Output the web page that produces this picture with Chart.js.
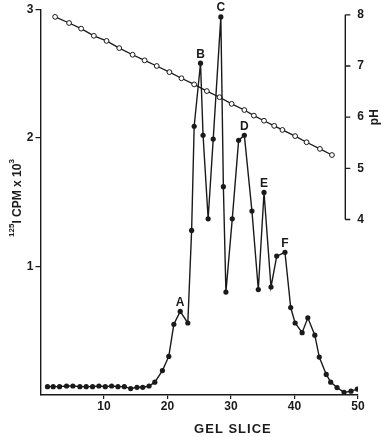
<!DOCTYPE html>
<html>
<head>
<meta charset="utf-8">
<script src="https://cdn.jsdelivr.net/npm/chart.js@4.4.1/dist/chart.umd.min.js"></script>
<style>
  body { margin: 0; background: #fff; }
  canvas { display: block; }
</style>
</head>
<body>
<canvas id="gel" width="381" height="437"></canvas>
<script>
// 125I counts per gel slice (x 10^3)
const cpmSlice = [1.1, 2.0, 3.0, 4.1, 5.1, 6.2, 7.2, 8.2, 9.2, 10.2, 11.2, 12.2, 13.2, 14.2, 15.2, 16.1, 17.1,
  18.0, 19.2, 20.2, 21.0, 22.0, 23.2, 23.8, 24.2, 25.2, 25.6, 26.4, 27.2, 28.4, 28.8, 29.2, 30.2, 31.2, 32.1,
  33.3, 34.3, 35.2, 36.3, 37.2, 38.5, 39.4, 40.1, 41.2, 42.1, 43.2, 43.9, 45.0, 45.7, 46.7, 47.8, 48.9, 49.9];
const cpm = [0.065, 0.065, 0.065, 0.07, 0.07, 0.065, 0.065, 0.065, 0.07, 0.065, 0.07, 0.065, 0.065, 0.05, 0.06, 0.06, 0.07,
  0.10, 0.19, 0.30, 0.55, 0.65, 0.56, 1.28, 2.09, 2.58, 2.02, 1.37, 1.99, 2.94, 1.62, 0.80, 1.37, 1.98, 2.02,
  1.43, 0.82, 1.575, 0.84, 1.08, 1.11, 0.68, 0.56, 0.485, 0.60, 0.465, 0.295, 0.16, 0.10, 0.058, 0.02, 0.03, 0.046];

// pH gradient (open circles)
const phSlice = [2.3, 4.5, 6.4, 8.4, 10.4, 12.4, 14.5, 16.4, 18.3, 20.3, 22.2, 24.2, 26.2, 28.2, 30.1, 32.1,
  33.6, 35.2, 36.8, 38.1, 40.1, 41.9, 44.0, 45.9];
const ph = [7.96, 7.84, 7.73, 7.59, 7.49, 7.35, 7.22, 7.11, 7.0, 6.88, 6.76, 6.64, 6.51, 6.39, 6.26, 6.14,
  6.03, 5.93, 5.83, 5.75, 5.63, 5.51, 5.38, 5.26];

const peakNames = ["A", "B", "C", "D", "E", "F"];
const peakSlice = [22.0, 25.2, 28.4, 32.1, 35.2, 38.5];

const xTicks = [10, 20, 30, 40, 50];
const cpmTicks = [1, 2, 3];
const phTicks = [4, 5, 6, 7, 8];

const ink = "#1a1a1a";
const family = "'Liberation Sans', Arial, sans-serif";

function onlyTicks(list) {
  return function (scale) {
    scale.ticks = list.map(v => ({ value: v }));
  };
}

const extras = {
  id: "extras",
  afterDraw(chart) {
    const ctx = chart.ctx;
    const xs = chart.scales.x;
    const ps = chart.scales.ph;
    ctx.save();
    ctx.fillStyle = ink;
    ctx.strokeStyle = ink;

    // peak letters
    const pts = chart.getDatasetMeta(0).data;
    ctx.font = "bold 12px " + family;
    ctx.textAlign = "center";
    ctx.textBaseline = "bottom";
    peakNames.forEach((n, i) => {
      const pt = pts[cpmSlice.indexOf(peakSlice[i])];
      ctx.fillText(n, pt.x, pt.y - 3);
    });

    // pH axis on the right
    const ax = xs.getPixelForValue(48);
    ctx.lineWidth = 1.4;
    ctx.beginPath();
    ctx.moveTo(ax, ps.getPixelForValue(phTicks[0]));
    ctx.lineTo(ax, ps.getPixelForValue(phTicks[phTicks.length - 1]));
    phTicks.forEach(v => {
      const yy = ps.getPixelForValue(v);
      ctx.moveTo(ax, yy);
      ctx.lineTo(ax + 5, yy);
    });
    ctx.stroke();
    ctx.font = "bold 12px " + family;
    ctx.textAlign = "left";
    ctx.textBaseline = "middle";
    phTicks.forEach(v => ctx.fillText(String(v), ax + 12, ps.getPixelForValue(v)));

    ctx.save();
    ctx.translate(375, ps.getPixelForValue(6));
    ctx.rotate(-Math.PI / 2);
    ctx.textAlign = "center";
    ctx.font = "bold 12px " + family;
    ctx.fillText("pH", 0, 0);
    ctx.restore();

    // left title with superscripts
    ctx.save();
    ctx.translate(16, 198);
    ctx.rotate(-Math.PI / 2);
    ctx.textAlign = "left";
    ctx.textBaseline = "alphabetic";
    const parts = [["125", 8, -2], ["I CPM x 10", 12, 4.5], ["3", 8, -2]];
    let total = 0;
    parts.forEach(p => { ctx.font = "bold " + p[1] + "px " + family; total += ctx.measureText(p[0]).width; });
    let cx = -total / 2;
    parts.forEach(p => {
      ctx.font = "bold " + p[1] + "px " + family;
      ctx.fillText(p[0], cx, p[2]);
      cx += ctx.measureText(p[0]).width;
    });
    ctx.restore();

    // x title
    ctx.font = "bold 13px " + family;
    ctx.letterSpacing = "1px";
    ctx.textAlign = "center";
    ctx.textBaseline = "middle";
    ctx.fillText("GEL SLICE", xs.getPixelForValue(30.3), 429);
    ctx.restore();
  }
};

new Chart(document.getElementById("gel"), {
  type: "line",
  data: {
    datasets: [
      {
        label: "125I CPM",
        data: cpmSlice.map((s, i) => ({ x: s, y: cpm[i] })),
        yAxisID: "y",
        borderColor: ink,
        borderWidth: 1.4,
        pointRadius: 2.6,
        pointBackgroundColor: ink,
        pointBorderColor: ink,
        pointBorderWidth: 0,
        tension: 0
      },
      {
        label: "pH",
        data: phSlice.map((s, i) => ({ x: s, y: ph[i] })),
        yAxisID: "ph",
        borderColor: ink,
        borderWidth: 1.3,
        pointRadius: 2.4,
        pointBackgroundColor: "#fff",
        pointBorderColor: ink,
        pointBorderWidth: 1,
        tension: 0
      }
    ]
  },
  options: {
    responsive: false,
    animation: false,
    events: [],
    layout: { padding: { left: 0, right: 23, top: 6.5, bottom: 0 } },
    plugins: { legend: { display: false }, tooltip: { enabled: false } },
    scales: {
      x: {
        type: "linear",
        min: 0,
        max: 50,
        afterBuildTicks: onlyTicks(xTicks),
        afterFit: s => { s.height = 42; },
        grid: { drawOnChartArea: false, tickLength: 4, color: ink, lineWidth: 1.2 },
        border: { color: ink, width: 1.4 },
        ticks: { color: ink, font: { family: family, size: 12, weight: "bold" }, padding: 0, maxRotation: 0 }
      },
      y: {
        position: "left",
        min: 0,
        max: 3,
        afterBuildTicks: onlyTicks(cpmTicks),
        afterFit: s => { s.width = 40.5; },
        grid: { drawOnChartArea: false, tickLength: 5, color: ink, lineWidth: 1.2 },
        border: { color: ink, width: 1.4 },
        ticks: { color: ink, font: { family: family, size: 12, weight: "bold" }, padding: 2 }
      },
      ph: { display: false, min: 0.57, max: 8.11 }
    }
  },
  plugins: [extras]
});
</script>
</body>
</html>
